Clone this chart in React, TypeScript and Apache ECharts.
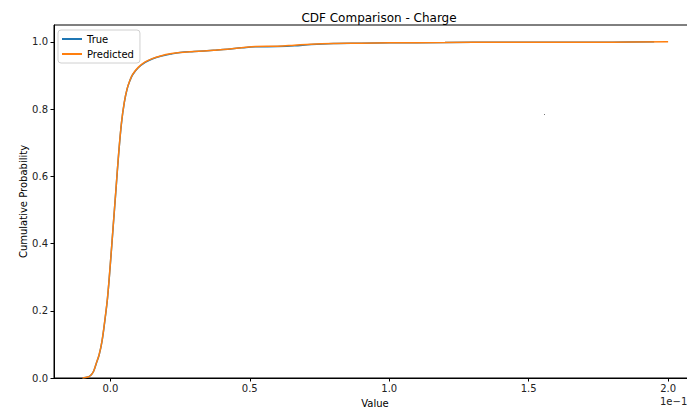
import React, { useEffect, useRef } from "react";
import * as echarts from "echarts";

const xTicks = [0, 0.5, 1.0, 1.5, 2.0];
const yTicks = [0, 0.2, 0.4, 0.6, 0.8, 1.0];

const predX = [-0.1, -0.08, -0.07, -0.06, -0.05, -0.04, -0.03, -0.02, -0.01, 0.0, 0.01, 0.02, 0.03, 0.04, 0.05, 0.06, 0.07, 0.08, 0.1, 0.125, 0.15, 0.18, 0.22, 0.25, 0.3, 0.37, 0.42, 0.47, 0.52, 0.6, 0.66, 0.72, 0.8, 0.9, 1.0, 1.2, 1.4, 1.6, 1.8, 2.0];
const predY = [0, 0.003, 0.008, 0.02, 0.045, 0.07, 0.11, 0.17, 0.24, 0.34, 0.45, 0.56, 0.67, 0.76, 0.82, 0.86, 0.885, 0.903, 0.924, 0.94, 0.95, 0.958, 0.965, 0.968, 0.971, 0.975, 0.978, 0.982, 0.986, 0.987, 0.99, 0.993, 0.995, 0.996, 0.997, 0.998, 0.999, 0.999, 0.999, 1.0];

const trueX = [-0.1, -0.08, -0.07, -0.06, -0.05, -0.04, -0.03, -0.02, -0.01, 0.0, 0.01, 0.02, 0.03, 0.04, 0.05, 0.06, 0.07, 0.08, 0.1, 0.125, 0.15, 0.18, 0.22, 0.25, 0.3, 0.37, 0.42, 0.47, 0.52, 0.6, 0.66, 0.72, 0.8, 0.9, 1.0, 1.2, 1.4, 1.6, 1.8, 1.95];
const trueY = [0, 0.003, 0.008, 0.02, 0.044, 0.069, 0.108, 0.168, 0.238, 0.338, 0.448, 0.558, 0.668, 0.758, 0.819, 0.859, 0.884, 0.902, 0.923, 0.939, 0.949, 0.957, 0.964, 0.968, 0.971, 0.975, 0.978, 0.982, 0.985, 0.986, 0.988, 0.992, 0.995, 0.996, 0.997, 0.998, 0.999, 0.999, 0.999, 1.0];

const FONT = "DejaVu Sans";

export default function App() {
  const ref = useRef<HTMLDivElement>(null);
  useEffect(() => {
    const chart = echarts.init(ref.current!, undefined, { renderer: "svg" });
    const zip = (xs: number[], ys: number[]) => xs.map((x, i) => [x, ys[i]]);
    chart.setOption({
      animation: false,
      backgroundColor: "#fff",
      title: {
        text: "CDF Comparison - Charge",
        left: 374,
        top: 7,
        textAlign: "center",
        textStyle: { fontFamily: FONT, fontSize: 12, fontWeight: "normal", color: "#000" },
      },
      legend: {
        orient: "vertical",
        left: 58,
        top: 30,
        padding: [3, 6, 3, 4],
        itemGap: 3,
        itemWidth: 20,
        itemHeight: 2,
        icon: "rect",
        borderColor: "#d0d0d0",
        borderWidth: 1,
        borderRadius: 3,
        textStyle: { fontFamily: FONT, fontSize: 10, color: "#000", lineHeight: 12 },
        data: ["True", "Predicted"],
      },
      grid: {
        left: 54,
        top: 25,
        width: 642,
        height: 353,
        show: true,
        borderColor: "#000",
        borderWidth: 1,
        containLabel: false,
        outerBoundsMode: "none",
      },
      xAxis: {
        type: "value",
        min: -0.202,
        max: 2.1,
        name: "Value",
        nameLocation: "middle",
        nameGap: 20,
        nameTextStyle: { fontFamily: FONT, fontSize: 10, color: "#000" },
        axisLine: { show: true, onZero: false, lineStyle: { color: "#000", width: 1 } },
        axisTick: { show: true, length: 3.5, customValues: xTicks, lineStyle: { color: "#000" } },
        axisLabel: {
          customValues: xTicks,
          formatter: (v: number) => v.toFixed(1),
          fontFamily: FONT,
          fontSize: 10,
          color: "#222",
          margin: 5,
        },
        splitLine: { show: false },
      },
      yAxis: {
        type: "value",
        min: 0,
        max: 1.05,
        name: "Cumulative Probability",
        nameLocation: "middle",
        nameGap: 26,
        nameMoveOverlap: false,
        nameTextStyle: { fontFamily: FONT, fontSize: 10, color: "#000" },
        axisLine: { show: true, onZero: false, lineStyle: { color: "#000", width: 1 } },
        axisTick: { show: true, length: 3.5, customValues: yTicks, lineStyle: { color: "#000" } },
        axisLabel: {
          customValues: yTicks,
          formatter: (v: number) => v.toFixed(1),
          fontFamily: FONT,
          fontSize: 10,
          color: "#222",
          margin: 6,
        },
        splitLine: { show: false },
      },
      graphic: [
        {
          type: "text",
          left: 660,
          top: 396,
          style: { text: "1e\u22121", fontFamily: FONT, fontSize: 10, fill: "#222" },
        },
        {
          type: "rect",
          shape: { x: 544, y: 114, width: 1, height: 1 },
          style: { fill: "#777" },
        },
      ],
      series: [
        {
          name: "True",
          type: "line",
          data: zip(trueX, trueY),
          smooth: 0.35,
          showSymbol: false,
          symbol: "none",
          lineStyle: { color: "#1f77b4", width: 1.5 },
          itemStyle: { color: "#1f77b4" },
        },
        {
          name: "Predicted",
          type: "line",
          data: zip(predX, predY),
          smooth: 0.35,
          showSymbol: false,
          symbol: "none",
          lineStyle: { color: "#ff7f0e", width: 1.5 },
          itemStyle: { color: "#ff7f0e" },
        },
      ],
    });
    return () => chart.dispose();
  }, []);
  return <div ref={ref} style={{ width: 687, height: 410, position: "absolute", left: 0, top: 0 }} />;
}
